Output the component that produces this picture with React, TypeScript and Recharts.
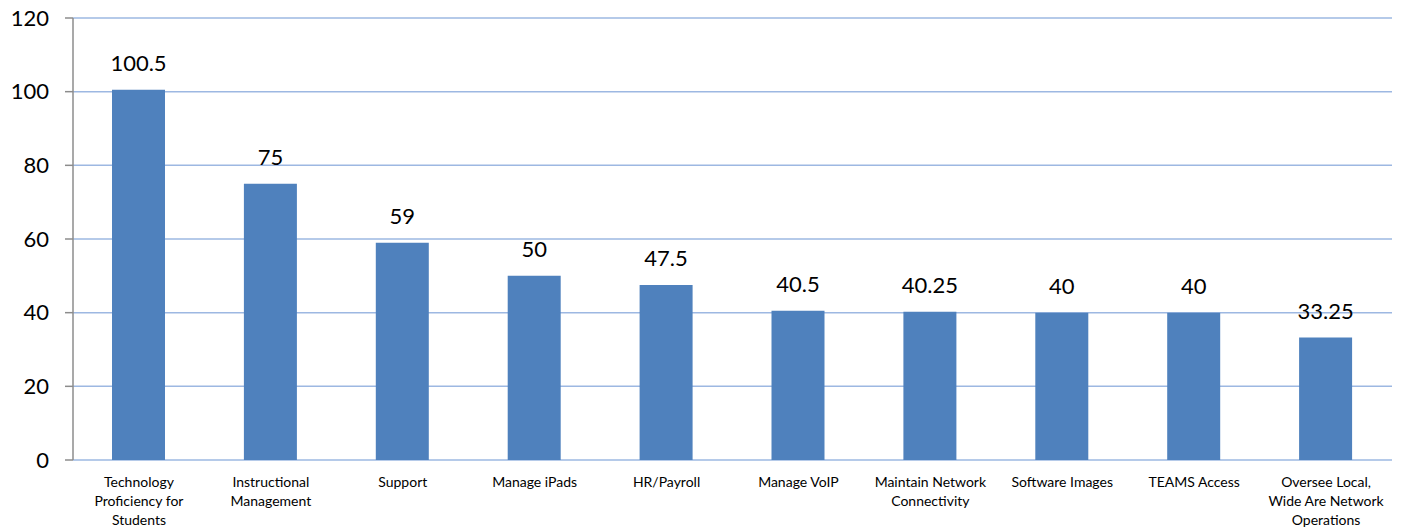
import React from "react";
import { BarChart, Bar, XAxis, YAxis, CartesianGrid, LabelList, Text } from "recharts";

const categories = [
  "Technology Proficiency for Students",
  "Instructional Management",
  "Support",
  "Manage iPads",
  "HR/Payroll",
  "Manage VoIP",
  "Maintain Network Connectivity",
  "Software Images",
  "TEAMS Access",
  "Oversee Local, Wide Are Network Operations",
];
const values = [100.5, 75, 59, 50, 47.5, 40.5, 40.25, 40, 40, 33.25];
const yTicks = [0, 20, 40, 60, 80, 100, 120];
const boundaryTicks = [0, 1, 2, 3, 4, 5, 6, 7, 8, 9, 10];

const data = categories.map((name, i) => ({ name, value: values[i] }));

const FONT = "Lato, 'Open Sans', sans-serif";

const XTick = (props: any) => {
  const { x, y, payload } = props;
  return (
    <Text
      x={x}
      y={y + 9}
      width={122}
      textAnchor="middle"
      verticalAnchor="start"
      lineHeight={19}
      fontSize={14}
      fontFamily={FONT}
      fill="#000"
    >
      {payload.value}
    </Text>
  );
};

export default function App() {
  return (
    <div style={{ position: "absolute", left: 0, top: 0, background: "#fff" }}>
      <BarChart
        width={1405}
        height={531}
        data={data}
        margin={{ top: 18, right: 13, left: 8, bottom: 11 }}
        barSize={53}
      >
        <CartesianGrid vertical={false} stroke="#9db8e2" strokeWidth={1.5} />
        <XAxis
          xAxisId="grid"
          type="number"
          domain={[0, 10]}
          ticks={boundaryTicks}
          allowDataOverflow
          height={0}
          tick={false}
          tickSize={6}
          axisLine={{ stroke: "#8c8c8c", strokeWidth: 1.5 }}
          tickLine={{ stroke: "#8c8c8c", strokeWidth: 1.5 }}
        />
        <XAxis
          dataKey="name"
          interval={0}
          height={60}
          axisLine={false}
          tickLine={false}
          tick={<XTick />}
        />
        <YAxis
          width={65}
          domain={[0, 120]}
          ticks={yTicks}
          interval={0}
          tickSize={8}
          tickMargin={16}
          axisLine={{ stroke: "#8c8c8c", strokeWidth: 1.5 }}
          tickLine={{ stroke: "#8c8c8c", strokeWidth: 1.5 }}
          tick={{ fontSize: 22, fill: "#000", fontFamily: FONT }}
        />
        <Bar dataKey="value" fill="#4f81bd" isAnimationActive={false}>
          <LabelList
            dataKey="value"
            position="top"
            offset={19}
            fontSize={22}
            fill="#000"
            fontFamily={FONT}
          />
        </Bar>
      </BarChart>
    </div>
  );
}
